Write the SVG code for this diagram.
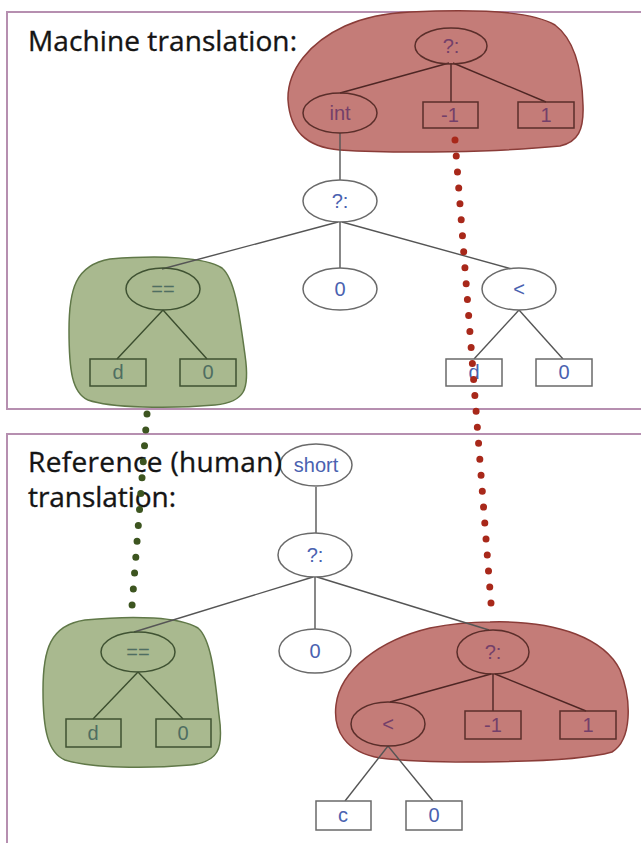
<svg xmlns="http://www.w3.org/2000/svg" width="641" height="843" viewBox="0 0 641 843">
  <style>
    .frame { fill: none; stroke: #b68fb0; stroke-width: 2; }
    .blob-red { fill: #c47c78; stroke: #8a3c38; stroke-width: 1.5; }
    .blob-green { fill: #a9b98f; stroke: #607848; stroke-width: 1.5; }
    .edge { stroke: #555; stroke-width: 1.4; fill: none; }
    .edge-red { stroke: #4e2624; stroke-width: 1.4; fill: none; }
    .edge-green { stroke: #3b4d2e; stroke-width: 1.4; fill: none; }
    .n-white { fill: #fff; stroke: #6a6a6a; stroke-width: 1.5; }
    .n-red { fill: none; stroke: #5a2e2a; stroke-width: 1.5; }
    .n-green { fill: none; stroke: #3f5232; stroke-width: 1.5; }
    .lbl { font-family: "Liberation Sans", Arial, sans-serif; font-size: 20px; text-anchor: middle; }
    .t-white { fill: #4a62b0; }
    .t-red { fill: #74406a; }
    .t-green { fill: #4f6e62; }
    .title { font-family: "Open Sans", "Liberation Sans", sans-serif; font-size: 28px; fill: #141414; stroke: #141414; stroke-width: 0.35; }
    .dots-red { fill: none; stroke: #a8281a; stroke-width: 7; stroke-linecap: round; }
    .dots-green { fill: none; stroke: #3d5520; stroke-width: 7; stroke-linecap: round; }
  </style>

  <rect width="641" height="843" fill="#fff"/>

  <!-- panel frames -->
  <rect class="frame" x="7" y="12" width="660" height="397"/>
  <rect class="frame" x="7" y="434" width="660" height="430"/>

  <!-- highlighted subtrees -->
  <g id="highlights">
    <path class="blob-red" d="M 410,12 C 470,9 530,10 555,25 C 575,40 582,70 583,105 C 584,130 578,142 560,146 C 500,152 400,154 340,150 C 305,147 290,130 288,100 C 287,70 310,42 345,26 C 365,17 385,13 410,12 Z"/>
    <path class="blob-green" d="M 110,259 C 160,255 205,257 222,268 C 236,280 240,320 245,355 C 250,390 245,402 215,405 C 170,409 110,408 88,400 C 72,393 69,370 69,330 C 69,290 75,265 110,259 Z"/>
    <path class="blob-green" d="M 85,620 C 135,615 180,617 198,628 C 212,640 215,680 219,715 C 224,750 218,762 190,765 C 145,769 90,768 65,760 C 48,753 43,730 43,690 C 43,650 50,625 85,620 Z"/>
    <path class="blob-red" d="M 490,622 C 560,620 605,640 620,670 C 632,700 632,740 612,752 C 570,764 430,764 380,758 C 345,752 333,730 336,705 C 340,670 380,640 430,628 C 450,624 470,622 490,622 Z"/>
  </g>

  <!-- tree edges -->
  <g id="connectors">
    <line class="edge-red" x1="449" y1="63" x2="340" y2="93"/>
    <line class="edge-red" x1="451" y1="63" x2="451" y2="102"/>
    <line class="edge-red" x1="453" y1="63" x2="546" y2="102"/>
    <line class="edge" x1="340" y1="133" x2="340" y2="180"/>
    <line class="edge" x1="338" y1="222" x2="162" y2="269"/>
    <line class="edge" x1="340" y1="222" x2="340" y2="268"/>
    <line class="edge" x1="342" y1="222" x2="512" y2="269"/>
    <line class="edge-green" x1="163" y1="310" x2="117" y2="359"/>
    <line class="edge-green" x1="163" y1="310" x2="207" y2="359"/>
    <line class="edge" x1="519" y1="310" x2="474" y2="359"/>
    <line class="edge" x1="519" y1="310" x2="563" y2="359"/>

    <line class="edge" x1="316" y1="487" x2="316" y2="533"/>
    <line class="edge" x1="313" y1="577" x2="134" y2="632"/>
    <line class="edge" x1="315" y1="577" x2="315" y2="629"/>
    <line class="edge" x1="317" y1="577" x2="489" y2="630"/>
    <line class="edge-green" x1="138" y1="672" x2="93" y2="719"/>
    <line class="edge-green" x1="138" y1="672" x2="183" y2="719"/>
    <line class="edge-red" x1="491" y1="674" x2="390" y2="702"/>
    <line class="edge-red" x1="493" y1="674" x2="493" y2="711"/>
    <line class="edge-red" x1="495" y1="674" x2="586" y2="711"/>
    <line class="edge" x1="388" y1="746" x2="345" y2="801"/>
    <line class="edge" x1="388" y1="746" x2="433" y2="801"/>
  </g>

  <!-- machine translation tree -->
  <g id="m-cond"><ellipse class="n-red" cx="451" cy="46" rx="36" ry="18"/><text class="lbl t-red" x="451" y="53">?:</text></g>
  <g id="m-int"><ellipse class="n-red" cx="340" cy="113" rx="37" ry="20"/><text class="lbl t-red" x="340" y="120">int</text></g>
  <g id="m-neg1"><rect class="n-red" x="423" y="102" width="55" height="26"/><text class="lbl t-red" x="450" y="122">-1</text></g>
  <g id="m-one"><rect class="n-red" x="518" y="102" width="56" height="26"/><text class="lbl t-red" x="546" y="122">1</text></g>
  <g id="m-cond2"><ellipse class="n-white" cx="340" cy="201" rx="37" ry="21"/><text class="lbl t-white" x="340" y="208">?:</text></g>
  <g id="m-eq"><ellipse class="n-green" cx="163" cy="289" rx="37" ry="21"/><text class="lbl t-green" x="163" y="296">==</text></g>
  <g id="m-zero"><ellipse class="n-white" cx="340" cy="289" rx="37" ry="21"/><text class="lbl t-white" x="340" y="296">0</text></g>
  <g id="m-lt"><ellipse class="n-white" cx="519" cy="289" rx="37" ry="21"/><text class="lbl t-white" x="519" y="296">&lt;</text></g>
  <g id="m-eq-d"><rect class="n-green" x="90" y="359" width="56" height="27"/><text class="lbl t-green" x="118" y="379">d</text></g>
  <g id="m-eq-0"><rect class="n-green" x="180" y="359" width="56" height="27"/><text class="lbl t-green" x="208" y="379">0</text></g>
  <g id="m-lt-d"><rect class="n-white" x="446" y="359" width="56" height="27"/><text class="lbl t-white" x="474" y="379">d</text></g>
  <g id="m-lt-0"><rect class="n-white" x="536" y="359" width="56" height="27"/><text class="lbl t-white" x="564" y="379">0</text></g>

  <!-- reference translation tree -->
  <g id="r-short"><ellipse class="n-white" cx="316" cy="465" rx="36" ry="21"/><text class="lbl t-white" x="316" y="472">short</text></g>
  <g id="r-cond"><ellipse class="n-white" cx="315" cy="555" rx="37" ry="22"/><text class="lbl t-white" x="315" y="562">?:</text></g>
  <g id="r-eq"><ellipse class="n-green" cx="138" cy="652" rx="37" ry="20"/><text class="lbl t-green" x="138" y="659">==</text></g>
  <g id="r-eq-d"><rect class="n-green" x="66" y="719" width="55" height="28"/><text class="lbl t-green" x="93" y="740">d</text></g>
  <g id="r-eq-0"><rect class="n-green" x="156" y="719" width="55" height="28"/><text class="lbl t-green" x="183" y="740">0</text></g>
  <g id="r-zero"><ellipse class="n-white" cx="315" cy="651" rx="36" ry="22"/><text class="lbl t-white" x="315" y="658">0</text></g>
  <g id="r-cond2"><ellipse class="n-red" cx="493" cy="652" rx="36" ry="22"/><text class="lbl t-red" x="493" y="659">?:</text></g>
  <g id="r-lt"><ellipse class="n-red" cx="388" cy="724" rx="37" ry="22"/><text class="lbl t-red" x="388" y="731">&lt;</text></g>
  <g id="r-neg1"><rect class="n-red" x="465" y="711" width="56" height="28"/><text class="lbl t-red" x="493" y="732">-1</text></g>
  <g id="r-one"><rect class="n-red" x="560" y="711" width="56" height="28"/><text class="lbl t-red" x="588" y="732">1</text></g>
  <g id="r-lt-c"><rect class="n-white" x="316" y="801" width="55" height="29"/><text class="lbl t-white" x="343" y="822">c</text></g>
  <g id="r-lt-0"><rect class="n-white" x="406" y="801" width="56" height="29"/><text class="lbl t-white" x="434" y="822">0</text></g>

  <!-- panel titles -->
  <text class="title" x="28" y="51" textLength="269">Machine translation:</text>
  <text class="title" x="28" y="472" textLength="254">Reference (human)</text>
  <text class="title" x="28" y="507" textLength="148">translation:</text>

  <!-- correspondence links -->
  <g id="links">
    <path class="dots-green" d="M 147,414 L 132,606" stroke-dasharray="0 15.96"/>
    <path class="dots-red" d="M 455,140 L 491,603" stroke-dasharray="0 16.01"/>
  </g>
</svg>
